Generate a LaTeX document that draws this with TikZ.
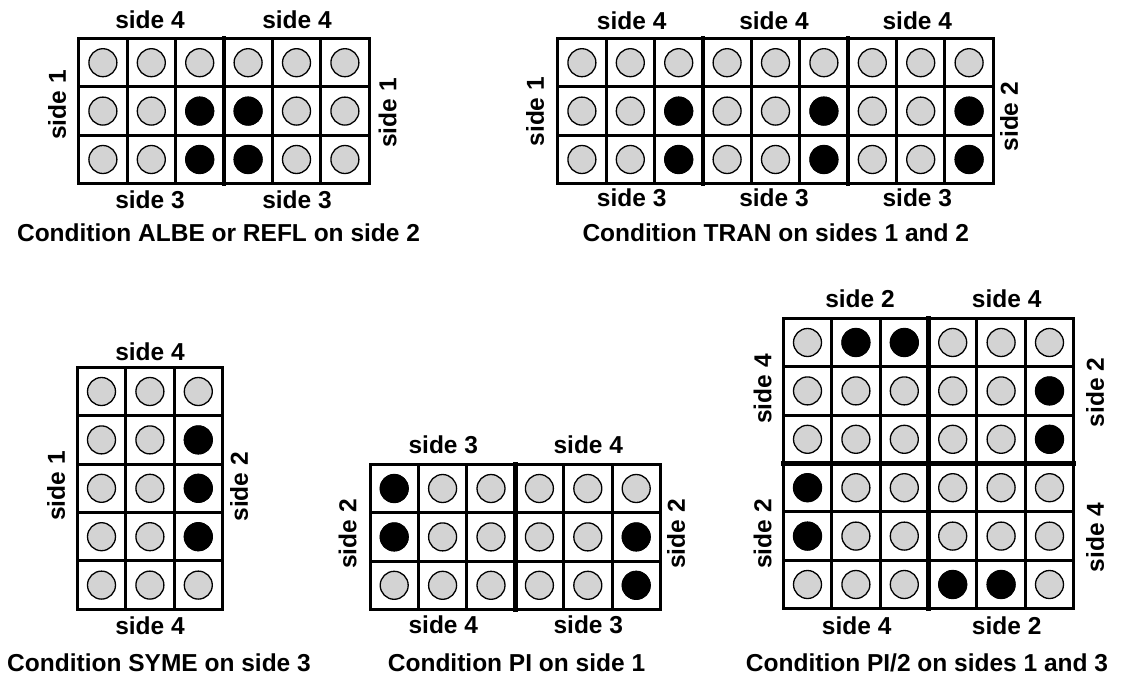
\documentclass[tikz,border=0pt]{standalone}
\usepackage{fontspec}
\setmainfont{Liberation Sans}
\definecolor{dotgray}{RGB}{211,211,211}
\newcommand{\cs}{48.4}
\newcommand{\cellsgrid}[4]{%
 \begin{scope}[shift={(#1,-#2)}]
  \foreach \i in {1,...,#3}{\foreach \j in {1,...,#4}{%
    \draw[gdot] ({(\i-0.5)*\cs},{-(\j-0.5)*\cs}) circle (14);}}
  \foreach \i in {0,...,#3}{\draw[gline] ({\i*\cs},0) -- ({\i*\cs},{-#4*\cs});}
  \foreach \j in {0,...,#4}{\draw[gline] (0,{-\j*\cs}) -- ({#3*\cs},{-\j*\cs});}
 \end{scope}}
\newcommand{\blackdots}[3]{%
 \begin{scope}[shift={(#1,-#2)}]
  \foreach \i/\j in {#3}{\fill[black] ({(\i-0.5)*\cs},{-(\j-0.5)*\cs}) circle (14.4);}
 \end{scope}}
\newcommand{\thickv}[4]{% x y col rows
 \begin{scope}[shift={(#1,-#2)}]
  \draw[gthick] ({#3*\cs},0) -- ({#3*\cs},{-#4*\cs});
 \end{scope}}
\newcommand{\thickh}[4]{% x y row cols
 \begin{scope}[shift={(#1,-#2)}]
  \draw[gthick] (0,{-#3*\cs}) -- ({#4*\cs},{-#3*\cs});
 \end{scope}}
\begin{document}
\begin{tikzpicture}[x=1pt,y=1pt,
  gdot/.style={draw=black,line width=1.3pt,fill=dotgray},
  gline/.style={draw=black,line width=3pt,line cap=rect},
  gthick/.style={draw=black,line width=4.6pt,line cap=rect},
  lab/.style={font=\fontsize{24.5}{28}\selectfont\bfseries,inner sep=0pt},
  vlab/.style={lab,rotate=90}]
\useasboundingbox (0,0) rectangle (1124,-677);
% Grid 1
\cellsgrid{78.7}{38.5}{6}{3}
\blackdots{78.7}{38.5}{3/2,3/3,4/2,4/3}
\thickv{78.7}{38.5}{3}{3}
\node[lab] (g1t1) at (150,-19.5) {side 4};
\node[lab] (g1t2) at (297,-19.5) {side 4};
\node[lab] (g1b1) at (150,-199.5) {side 3};
\node[lab] (g1b2) at (297,-199.5) {side 3};
\node[vlab] (g1l) at (57,-105) {side 1};
\node[vlab] (g1r) at (387.5,-113) {side 1};
\node[lab] (g1c) at (218.5,-233) {Condition ALBE or REFL on side 2};
% Grid 2
\cellsgrid{557.7}{38.5}{9}{3}
\blackdots{557.7}{38.5}{3/2,3/3,6/2,6/3,9/2,9/3}
\thickv{557.7}{38.5}{3}{3}
\thickv{557.7}{38.5}{6}{3}
\node[lab] (g2t1) at (631.7,-21) {side 4};
\node[lab] (g2t2) at (774,-21) {side 4};
\node[lab] (g2t3) at (917.3,-21) {side 4};
\node[lab] (g2b1) at (631.7,-198) {side 3};
\node[lab] (g2b2) at (774,-198) {side 3};
\node[lab] (g2b3) at (917.3,-198) {side 3};
\node[vlab] (g2l) at (535,-111.7) {side 1};
\node[vlab] (g2r) at (1009,-116.7) {side 2};
\node[lab] (g2c) at (775.8,-233) {Condition TRAN on sides 1 and 2};
% Grid 3
\cellsgrid{77.3}{367.3}{3}{5}
\blackdots{77.3}{367.3}{3/2,3/3,3/4}
\node[lab] (g3t) at (150,-351.5) {side 4};
\node[lab] (g3b) at (150,-625.5) {side 4};
\node[vlab] (g3l) at (56,-486) {side 1};
\node[vlab] (g3r) at (239,-486.7) {side 2};
\node[lab] (g3c) at (159,-662.5) {Condition SYME on side 3};
% Grid 4
\cellsgrid{370}{464.3}{6}{3}
\blackdots{370}{464.3}{1/1,1/2,6/2,6/3}
\thickv{370}{464.3}{3}{3}
\node[lab] (g4t1) at (443.3,-445) {side 3};
\node[lab] (g4t2) at (588.3,-445) {side 4};
\node[lab] (g4b1) at (443.3,-624.5) {side 4};
\node[lab] (g4b2) at (588.3,-624.5) {side 3};
\node[vlab] (g4l) at (347.5,-534) {side 2};
\node[vlab] (g4r) at (676,-534) {side 2};
\node[lab] (g4c) at (516.5,-662.5) {Condition PI on side 1};
% Grid 5
\cellsgrid{783.3}{318.3}{6}{6}
\blackdots{783.3}{318.3}{2/1,3/1,6/2,6/3,1/4,1/5,4/6,5/6}
\thickv{783.3}{318.3}{3}{6}
\thickh{783.3}{318.3}{3}{6}
\node[lab] (g5t1) at (860,-298.5) {side 2};
\node[lab] (g5t2) at (1006.7,-298.5) {side 4};
\node[lab] (g5b1) at (856.7,-626) {side 4};
\node[lab] (g5b2) at (1006.7,-626) {side 2};
\node[vlab] (g5l1) at (762.5,-389) {side 4};
\node[vlab] (g5l2) at (762.5,-534) {side 2};
\node[vlab] (g5r1) at (1095,-392.5) {side 2};
\node[vlab] (g5r2) at (1095,-537.5) {side 4};
\node[lab] (g5c) at (927,-662.5) {Condition PI/2 on sides 1 and 3};
\end{tikzpicture}
\end{document}
